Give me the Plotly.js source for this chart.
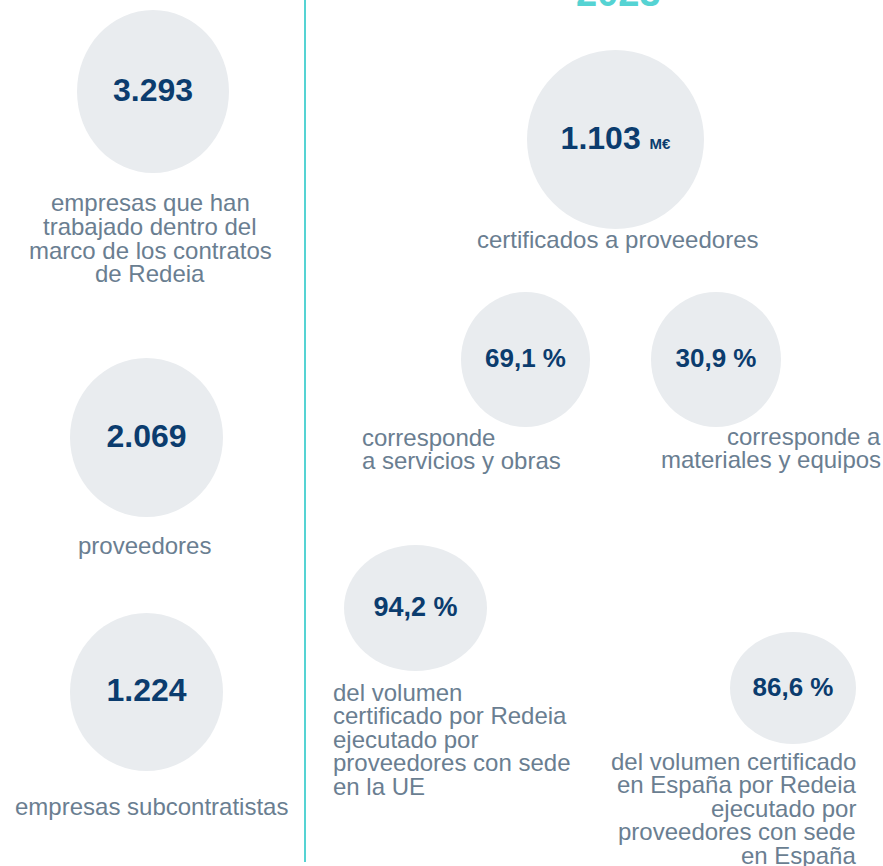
<!DOCTYPE html>
<html>
<head>
<meta charset="utf-8">
<script src="https://cdn.plot.ly/plotly-3.0.1.min.js"></script>
<style>
  html, body { margin: 0; padding: 0; background: #fff; }
  #graph { width: 883px; height: 866px; }
</style>
</head>
<body>
<div id="graph"></div>
<script>
// datos
const anio = '2023';
const valores = [3293, 2069, 1224, 1103, 69.1, 30.9, 94.2, 86.6];
const unidades = ['', '', '', 'M€', '%', '%', '%', '%'];
const descripciones = [
    ['empresas que han', 'trabajado dentro del', 'marco de los contratos', 'de Redeia'],
    ['proveedores'],
    ['empresas subcontratistas'],
    ['certificados a proveedores'],
    ['corresponde', 'a servicios y obras'],
    ['corresponde a', 'materiales y equipos'],
    ['del volumen', 'certificado por Redeia', 'ejecutado por', 'proveedores con sede', 'en la UE'],
    ['del volumen certificado', 'en España por Redeia', 'ejecutado por', 'proveedores con sede', 'en España']
];

// maquetación (px sobre el lienzo de 883x866)
const burbujas = [
    { x0: 77, x1: 229, y0: 10, y1: 173 },
    { x0: 70, x1: 223, y0: 358, y1: 517 },
    { x0: 70, x1: 223, y0: 613, y1: 771 },
    { x0: 527, x1: 704, y0: 50, y1: 229 },
    { x0: 461, x1: 590, y0: 292, y1: 427 },
    { x0: 651, x1: 781, y0: 292, y1: 427 },
    { x0: 344, x1: 487, y0: 545, y1: 671 },
    { x0: 730, x1: 856, y0: 632, y1: 744 }
];
const textos = [
    { x: 150, y: 203, align: 'center' },
    { x: 144, y: 545, align: 'center' },
    { x: 151, y: 806, align: 'center' },
    { x: 617, y: 240, align: 'center' },
    { x: 360, y: 437, align: 'left' },
    { x: 883, y: 436, align: 'right' },
    { x: 331, y: 692, align: 'left' },
    { x: 858, y: 761, align: 'right' }
];
const valorSize = [32, 32, 32, 32, 26, 26, 27, 26];
const interlineado = 23.6;

const azul = '#0b3c6e', gris = '#6a7e91', fondo = '#e9ecef', turquesa = '#55d3d3';
const fuente = 'Liberation Sans, Arial, sans-serif';

function formato(v) {
    if (Number.isInteger(v)) {
        return String(v).replace(/\B(?=(\d{3})+(?!\d))/g, '.');
    }
    return v.toFixed(1).replace('.', ',');
}

function etiqueta(v, u) {
    if (u === '%') return formato(v) + ' %';
    if (u) return formato(v) + ' <span style="font-size:15px">' + u + '</span>';
    return formato(v);
}

const centrosX = burbujas.map(b => (b.x0 + b.x1) / 2);
const centrosY = burbujas.map(b => (b.y0 + b.y1) / 2 + 1);

const trace = {
    type: 'scatter',
    mode: 'text',
    x: centrosX,
    y: centrosY,
    text: valores.map((v, i) => '<b>' + etiqueta(v, unidades[i]) + '</b>'),
    textposition: 'middle center',
    textfont: { family: fuente, size: valorSize, color: azul },
    hoverinfo: 'skip',
    showlegend: false,
    cliponaxis: false
};

const shapes = burbujas.map(b => ({
    type: 'circle', xref: 'x', yref: 'y',
    x0: b.x0, x1: b.x1, y0: b.y0, y1: b.y1,
    fillcolor: fondo, line: { width: 0 }, layer: 'below'
}));
shapes.push({
    type: 'line', xref: 'x', yref: 'y',
    x0: 305, x1: 305, y0: 0, y1: 862,
    line: { color: turquesa, width: 2 }
});

const annotations = [];
descripciones.forEach((lineas, i) => {
    const t = textos[i];
    lineas.forEach((linea, j) => {
        annotations.push({
            x: t.x / 883, y: 1 - (t.y + j * interlineado) / 866,
            xref: 'paper', yref: 'paper',
            text: linea, showarrow: false,
            xanchor: t.align, yanchor: 'middle',
            font: { family: fuente, size: 24, color: gris }
        });
    });
});
annotations.push({
    x: 618 / 883, y: 1 + 7 / 866, xref: 'paper', yref: 'paper',
    text: '<b>' + anio + '</b>', showarrow: false,
    xanchor: 'center', yanchor: 'middle',
    font: { family: fuente, size: 38, color: turquesa }
});

const layout = {
    width: 883,
    height: 866,
    margin: { l: 0, r: 0, t: 0, b: 0 },
    paper_bgcolor: '#ffffff',
    plot_bgcolor: '#ffffff',
    xaxis: { range: [0, 883], visible: false, fixedrange: true },
    yaxis: { range: [866, 0], visible: false, fixedrange: true },
    shapes: shapes,
    annotations: annotations
};

Plotly.newPlot('graph', [trace], layout, { displayModeBar: false, staticPlot: true });
</script>
</body>
</html>
